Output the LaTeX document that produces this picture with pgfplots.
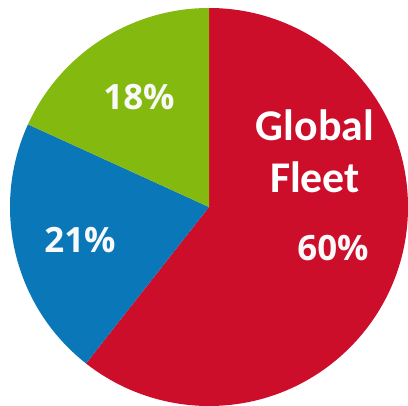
\documentclass[border=0pt]{standalone}
\usepackage{pgfplots}
\pgfplotsset{compat=1.18}
\usepackage{pgfplotstable}
\usepackage{fontspec}
\setmainfont{Open Sans}
\newfontfamily\calibri{Carlito}
\definecolor{pred}{HTML}{CC0E2B}
\definecolor{pblue}{HTML}{0A78B8}
\definecolor{pgreen}{HTML}{84B90F}
\pgfplotstableread{
label value
Fleet 60
Other 21
Rest 18
}\piedata
\begin{document}
\begin{tikzpicture}
\pgfplotstablegetelem{0}{value}\of\piedata \let\va\pgfplotsretval
\pgfplotstablegetelem{1}{value}\of\piedata \let\vb\pgfplotsretval
\pgfplotstablegetelem{2}{value}\of\piedata \let\vc\pgfplotsretval
\pgfmathsetmacro{\tot}{\va+\vb+\vc}
\pgfmathsetmacro{\aA}{90-\va/\tot*360}
\pgfmathsetmacro{\aB}{\aA-\vb/\tot*360}
\begin{axis}[width=408bp,height=406bp,scale only axis,enlargelimits=false,
  xmin=0,xmax=408,ymin=0,ymax=406,hide axis,clip=false]
\coordinate (LL) at (axis cs:0,0);
\coordinate (UR) at (axis cs:408,406);
\fill[pred] (axis cs:209,199) -- ++(90:199bp) arc[start angle=90, end angle=\aA, radius=199bp] -- cycle;
\fill[pblue] (axis cs:209,199) -- ++(\aA:199bp) arc[start angle=\aA, end angle=\aB, radius=199bp] -- cycle;
\fill[pgreen] (axis cs:209,199) -- ++(\aB:199bp) arc[start angle=\aB, end angle=-270, radius=199bp] -- cycle;
\node[text=white!95!gray, font=\fontsize{35}{35}\selectfont\bfseries] at (axis cs:139,309) {18\%};
\node[text=white!95!gray, font=\fontsize{35}{35}\selectfont\bfseries] at (axis cs:80,166) {21\%};
\node[text=white!95!gray, font=\fontsize{35}{35}\selectfont\bfseries] at (axis cs:333,158) {60\%};
\node[text=white, align=center, font=\calibri\fontsize{44}{52}\selectfont\bfseries] at (axis cs:315,255) {Global\\Fleet};
\end{axis}
\pgfresetboundingbox
\path (LL) rectangle (UR);
\end{tikzpicture}
\end{document}
